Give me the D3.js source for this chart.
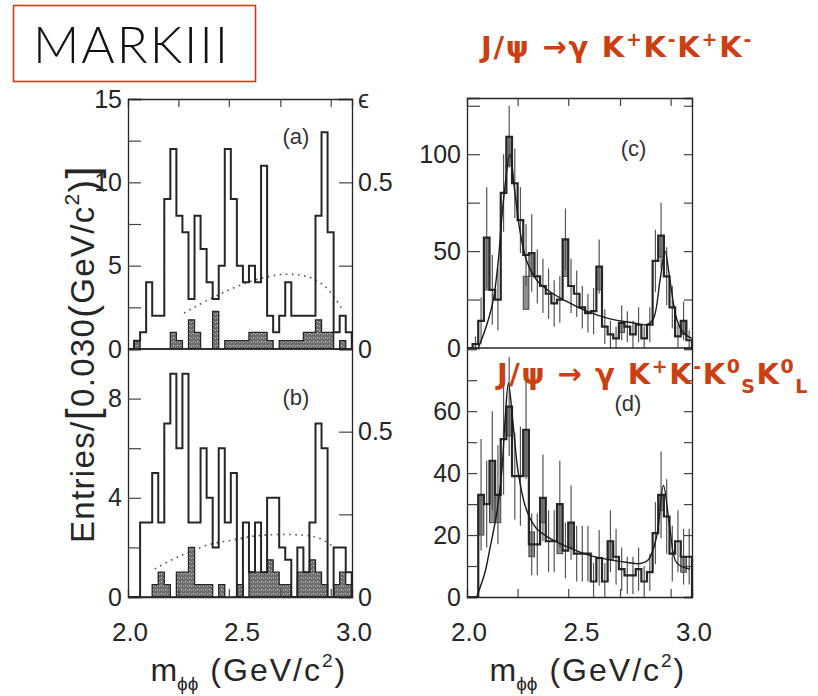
<!DOCTYPE html>
<html><head><meta charset="utf-8">
<script src="https://cdn.jsdelivr.net/npm/d3@7/dist/d3.min.js"></script>
<style>body{margin:0;background:#fff;} svg{display:block;}</style>
</head><body>
<svg id="chart" width="818" height="696"></svg>
<script>
// ---------------- DATA ----------------
// Panels (a), (b): histograms, bins start at 2.0 GeV
const binStartAB = 2.0;
const binWidthAB = 0.027;
const openA   = [0, 0.5, 1, 4, 2, 2, 9, 12, 8, 7, 3, 8, 6, 4, 3, 5, 12, 9, 5, 4, 5, 4, 11, 2, 1, 2, 4, 2, 2, 2, 2, 8, 13, 7, 1, 2, 1];
const shadedA = [0, 0.5, 0, 0, 0, 0, 0, 1, 0.5, 0, 1.75, 1, 0, 0, 2.25, 0, 0.5, 0.5, 0.5, 0.5, 1, 1, 1, 0.5, 0, 0.5, 0.5, 0.5, 0.5, 1, 1, 1.75, 1, 1, 0, 0.5, 0];
const openB   = [0, 0, 3, 3, 5, 3, 7, 9, 6, 9, 3, 3, 6, 4, 2, 6, 3, 5, 0, 3, 1, 3, 1, 4, 4, 2, 1.5, 0, 2, 1, 3, 7, 6, 0, 2, 2, 1];
const shadedB = [0, 0, 0, 0, 0.5, 1, 0.5, 0, 1, 1, 2, 0.5, 0.5, 0.5, 0, 0.5, 0, 0, 0.5, 0, 1, 1, 1, 1.5, 1, 0.5, 0.5, 0, 1, 1, 1.5, 1, 0.5, 0, 0.5, 1, 0.5];
// detection efficiency (dotted curves)
const effMassA = [2.25, 2.35, 2.45, 2.55, 2.65, 2.74, 2.84, 2.91, 2.96];
const effA     = [0.108, 0.145, 0.178, 0.205, 0.222, 0.227, 0.213, 0.17, 0.115];
const effMassB = [2.12, 2.205, 2.27, 2.357, 2.45, 2.51, 2.567, 2.68, 2.80, 2.866, 2.92];
const effB     = [0.085, 0.117, 0.134, 0.16, 0.17, 0.178, 0.186, 0.19, 0.188, 0.178, 0.15];
// Panels (c), (d)
const binStartCD = 2.0;
const binWidthCD = 0.025;
const histC = [0, 2, 14, 57, 30, 25, 80, 109, 85, 66, 48, 49, 37, 32, 28, 23, 25, 56, 32, 28, 21, 18, 19, 42, 11, 7, 5, 13, 11, 7, 12, 5, 12, 45, 58, 37, 21, 6, 14, 4];
const errC  = [0, 4, 12, 26, 18, 16, 20, 16, 18, 17, 16, 20, 14, 14, 13, 12, 12, 16, 14, 12, 11, 10, 12, 14, 9, 7, 6, 9, 8, 7, 9, 6, 9, 16, 17, 15, 11, 6, 10, 5];
const boxesC = [[3, 30, 57], [7, 94, 109], [10, 20, 37], [11, 37, 49], [17, 37, 56], [23, 30, 42], [34, 47, 58], [38, 7, 14], [27, 8, 13]];
const fitMassC = [2.05, 2.088, 2.117, 2.139, 2.161, 2.191, 2.213, 2.236, 2.265, 2.31, 2.369, 2.443, 2.532, 2.636, 2.739, 2.799, 2.828, 2.858, 2.88, 2.902, 2.932, 2.961, 2.999];
const fitC     = [0, 12, 25, 45, 75, 100, 80, 60, 45, 35, 29, 24, 19, 15, 13, 12, 15, 35, 50, 35, 15, 8, 5];
const histD = [0, 0, 33, 30, 44, 33, 51, 61.5, 39, 39, 54, 17, 17, 32, 18, 18, 30, 15, 24, 14, 14, 14, 5, 12.6, 5, 18, 13, 9, 7, 7, 9, 5, 8, 20.6, 33, 26, 14, 18, 13, 13];
const errD  = [0, 0, 18, 14, 16, 16, 18, 16, 14, 16, 16, 10, 10, 14, 10, 10, 14, 9, 12, 9, 9, 9, 6, 9, 6, 10, 9, 7, 6, 6, 7, 5, 6, 10, 14, 12, 9, 10, 9, 9];
const boxesD = [[2, 20, 33], [4, 24, 44], [5, 24, 33], [7, 52, 61.5], [10, 39, 54], [11, 13, 21], [13, 24, 32], [16, 14, 30], [18, 16, 24], [25, 12, 18], [34, 28, 33], [38, 8, 13]];
const fitMassD = [2.043, 2.08, 2.10, 2.132, 2.154, 2.17, 2.184, 2.206, 2.228, 2.265, 2.31, 2.354, 2.443, 2.561, 2.68, 2.769, 2.806, 2.843, 2.873, 2.902, 2.932, 2.991];
const fitD     = [0, 8, 15, 27, 40, 58, 69, 55, 40, 28, 22, 19.6, 16.3, 13.1, 11.5, 10.8, 12, 19.6, 36, 22, 11, 9];
// axis ticks
const xTickLabels = [2.0, 2.5, 3.0];
const xTickMarks  = [2.225, 2.45, 2.68, 2.905];
const yTicksA = [0, 2.5, 5, 7.5, 10, 12.5, 15], yLabelsA = [0, 5, 10, 15];
const yTicksB = [0, 2, 4, 6, 8, 10],            yLabelsB = [0, 4, 8];
const effTicks = [0, 0.25, 0.5, 0.75];
const yTicksC = [0, 25, 50, 75, 100, 125],      yLabelsC = [0, 50, 100];
const yTicksD = [0, 10, 20, 30, 40, 50, 60, 70, 80], yLabelsD = [0, 20, 40, 60];

// ---------------- CHART ----------------
const svg = d3.select("#chart");
const FONT = "'Liberation Sans', Arial, Helvetica, sans-serif";
const INK = "#262626";
const RED = "#cc3f12";

const defs = svg.append("defs");
const pat = defs.append("pattern").attr("id", "stip").attr("width", 4).attr("height", 4).attr("patternUnits", "userSpaceOnUse");
pat.append("rect").attr("width", 4).attr("height", 4).attr("fill", "#6e6e6e");
pat.append("rect").attr("x", 1).attr("y", 1).attr("width", 1).attr("height", 1).attr("fill", "#d8d8d8");
pat.append("rect").attr("x", 3).attr("y", 2).attr("width", 1).attr("height", 1).attr("fill", "#b0b0b0");

const xL = d3.scaleLinear().domain([2.0, 3.0]).range([128, 352]);
const xR = d3.scaleLinear().domain([2.0, 3.0]).range([467, 692]);
const yA = d3.scaleLinear().domain([0, 15]).range([349, 99]);
const yB = d3.scaleLinear().domain([0, 10]).range([597, 349]);
const eA = d3.scaleLinear().domain([0, 0.75]).range([349, 99]);
const eB = d3.scaleLinear().domain([0, 0.75]).range([597, 349]);
const yC = d3.scaleLinear().domain([0, 129]).range([348, 98]);
const yD = d3.scaleLinear().domain([0, 80.4]).range([597, 348]);

function fitWidth(sel, target) {
  const n = sel.node();
  const w = n.getComputedTextLength();
  const chars = n.textContent.length;
  sel.attr("letter-spacing", ((target - w) / chars).toFixed(2));
}

function stepPoints(vals, start, bw) {
  const pts = [[start, 0]];
  vals.forEach((v, i) => { pts.push([start + i * bw, v]); pts.push([start + (i + 1) * bw, v]); });
  pts.push([start + vals.length * bw, 0]);
  return pts;
}

function drawHistAB(g, x, y, open, shaded) {
  const pts = stepPoints(shaded, binStartAB, binWidthAB);
  g.append("path").datum(pts)
    .attr("d", d3.area().x(d => x(d[0])).y0(y(0)).y1(d => y(d[1])))
    .attr("fill", "url(#stip)").attr("stroke", INK).attr("stroke-width", 1.3);
  const op = stepPoints(open, binStartAB, binWidthAB);
  g.append("path").datum(op)
    .attr("d", d3.line().x(d => x(d[0])).y(d => y(d[1])))
    .attr("fill", "none").attr("stroke", INK).attr("stroke-width", 2).attr("stroke-linejoin", "miter");
}

function drawEff(g, x, e, ms, vs) {
  g.append("path").datum(ms.map((m, i) => [m, vs[i]]))
    .attr("d", d3.line().x(d => x(d[0])).y(d => e(d[1])).curve(d3.curveBasis))
    .attr("fill", "none").attr("stroke", "#555").attr("stroke-width", 1.6)
    .attr("stroke-dasharray", "1.6,4.5");
}

function drawHistCD(g, x, y, hist, err, boxes, fm, fv, top) {
  g.selectAll(null).data(boxes).enter().append("rect")
    .attr("x", d => x(binStartCD + d[0] * binWidthCD))
    .attr("width", d => x(binStartCD + binWidthCD) - x(binStartCD))
    .attr("y", d => y(d[2])).attr("height", d => y(d[1]) - y(d[2]))
    .attr("fill", "#8d8d8d").attr("stroke", "#444").attr("stroke-width", 1);
  g.selectAll(null).data(hist.map((v, i) => [i, v, err[i]]).filter(d => d[2] > 0)).enter().append("line")
    .attr("x1", d => x(binStartCD + (d[0] + 0.5) * binWidthCD))
    .attr("x2", d => x(binStartCD + (d[0] + 0.5) * binWidthCD))
    .attr("y1", d => y(Math.max(0, d[1] - d[2])))
    .attr("y2", d => y(Math.min(top, d[1] + d[2])))
    .attr("stroke", "#555").attr("stroke-width", 1.2);
  const pts = stepPoints(hist, binStartCD, binWidthCD);
  g.append("path").datum(pts)
    .attr("d", d3.line().x(d => x(d[0])).y(d => y(d[1])))
    .attr("fill", "none").attr("stroke", INK).attr("stroke-width", 2.2);
  g.append("path").datum(fm.map((m, i) => [m, fv[i]]))
    .attr("d", d3.line().x(d => x(d[0])).y(d => y(d[1])).curve(d3.curveCatmullRom))
    .attr("fill", "none").attr("stroke", "#1a1a1a").attr("stroke-width", 1.4);
}

function frameAxes(g, x, y, ticks, labels, side, tickLen) {
  const fmt = v => labels.includes(v) ? String(v) : "";
  const ax = (side === "left" ? d3.axisLeft(y) : d3.axisRight(y))
    .tickValues(ticks).tickSize(-tickLen).tickPadding(6).tickFormat(fmt);
  const pos = side === "left" ? x.range()[0] : x.range()[1];
  const a = g.append("g").attr("transform", `translate(${pos},0)`).call(ax);
  a.select(".domain").attr("stroke", INK).attr("stroke-width", 1.3);
  a.selectAll(".tick line").attr("stroke", "#444").attr("stroke-width", 1.2);
  a.selectAll("text").attr("font-family", FONT).attr("font-size", 25).attr("fill", INK);
  return a;
}

function xMarks(g, x, yPos, dir) {
  const ax = (dir === "top" ? d3.axisTop(x) : d3.axisBottom(x)).tickValues(xTickMarks).tickSize(-8).tickFormat("");
  const a = g.append("g").attr("transform", `translate(0,${yPos})`).call(ax);
  a.select(".domain").attr("stroke", INK).attr("stroke-width", 1.3);
  a.selectAll(".tick line").attr("stroke", "#444").attr("stroke-width", 1.2);
}

const g = svg.append("g");

// ----- panel (a)
drawEff(g, xL, eA, effMassA, effA);
drawHistAB(g, xL, yA, openA, shadedA);
frameAxes(g, xL, yA, yTicksA, yLabelsA, "left", 13);
const rA = frameAxes(g, xL, eA, effTicks, [0, 0.5, 0.75], "right", 13);
rA.selectAll("text").text(d => d === 0.75 ? "ϵ" : (d === 0.5 ? "0.5" : (d === 0 ? "0" : "")));
xMarks(g, xL, 99, "top");
// ----- panel (b)
drawEff(g, xL, eB, effMassB, effB);
drawHistAB(g, xL, yB, openB, shadedB);
frameAxes(g, xL, yB, yTicksB, yLabelsB, "left", 13);
const rB = frameAxes(g, xL, eB, effTicks.slice(0, 3), [0, 0.5], "right", 13);
rB.selectAll("text").text(d => d === 0.5 ? "0.5" : (d === 0 ? "0" : ""));
xMarks(g, xL, 597, "bottom");
g.append("line").attr("x1", xL(2.0)).attr("x2", xL(3.0)).attr("y1", yA(0)).attr("y2", yA(0)).attr("stroke", INK).attr("stroke-width", 1.5);

// ----- panel (c)
drawHistCD(g, xR, yC, histC, errC, boxesC, fitMassC, fitC, 129);
frameAxes(g, xR, yC, yTicksC, yLabelsC, "left", 13);
frameAxes(g, xR, yC, yTicksC, [], "right", 8);
xMarks(g, xR, 98, "top");
// ----- panel (d)
drawHistCD(g, xR, yD, histD, errD, boxesD, fitMassD, fitD, 80.4);
frameAxes(g, xR, yD, yTicksD, yLabelsD, "left", 10);
frameAxes(g, xR, yD, yTicksD, [], "right", 8);
xMarks(g, xR, 597, "bottom");
g.append("line").attr("x1", xR(2.0)).attr("x2", xR(3.0)).attr("y1", yC(0)).attr("y2", yC(0)).attr("stroke", INK).attr("stroke-width", 1.5);

// x tick labels
[xL, xR].forEach(x => {
  g.selectAll(null).data(xTickLabels).enter().append("text")
    .attr("x", d => x(d) + 2).attr("y", 641).attr("text-anchor", "middle")
    .attr("font-family", FONT).attr("font-size", 26).attr("fill", INK)
    .text(d => d.toFixed(1));
});

// panel letters
const pl = [["(a)", xL(2.75), yA(12.3)], ["(b)", xL(2.75), yB(7.75)], ["(c)", xR(2.74), yC(99)], ["(d)", xR(2.715), yD(60)]];
pl.forEach(p => g.append("text").attr("x", p[1]).attr("y", p[2]).attr("text-anchor", "middle")
  .attr("font-family", FONT).attr("font-size", 22).attr("fill", "#333").text(p[0]));

// x axis titles
[xL, xR].forEach(x => {
  const t = g.append("text").attr("x", x(2.1)).attr("y", 681).attr("font-family", FONT).attr("font-size", 32).attr("fill", INK);
  t.append("tspan").text("m");
  t.append("tspan").attr("font-size", 19).attr("dy", 9).text("ϕϕ");
  t.append("tspan").attr("dy", -9).attr("dx", 12).attr("letter-spacing", 2).text("(GeV/c");
  t.append("tspan").attr("font-size", 19).attr("dy", -14).text("2");
  t.append("tspan").attr("dy", 14).attr("dx", 2).text(")");
});

// y axis title
const yt = g.append("text").attr("transform", "translate(94,354) rotate(-90)").attr("text-anchor", "middle")
  .attr("font-family", FONT).attr("font-size", 33).attr("fill", INK);
yt.append("tspan").text("Entries/");
yt.append("tspan").attr("font-size", 44).attr("dy", 3).text("[");
yt.append("tspan").attr("dy", -3).text("0.030");
yt.append("tspan").attr("font-size", 38).attr("dy", 2).text("(");
yt.append("tspan").attr("dy", -2).text("GeV/c");
yt.append("tspan").attr("font-size", 21).attr("dy", -15).text("2");
yt.append("tspan").attr("font-size", 38).attr("dy", 17).text(")");
yt.append("tspan").attr("font-size", 44).attr("dy", 1).text("]");
fitWidth(yt, 378);

// MARKIII box
svg.append("rect").attr("x", 13.5).attr("y", 5.5).attr("width", 242).attr("height", 76)
  .attr("fill", "none").attr("stroke", RED).attr("stroke-width", 1.6);
const mk = svg.append("text").attr("x", 33).attr("y", 63)
  .attr("font-family", "Lato, 'Open Sans', sans-serif").attr("font-weight", 300).attr("font-size", 51).attr("fill", "#111")
  .text("MARKIII");
fitWidth(mk, 197);

// red titles
function redTitle(x, y, parts, target) {
  const t = svg.append("text").attr("x", x).attr("y", y).attr("font-family", "'DejaVu Sans', Verdana, sans-serif")
    .attr("font-weight", "bold").attr("font-size", 29).attr("fill", RED);
  parts.forEach(p => {
    const s = t.append("tspan").text(p[0]);
    if (p[1]) s.attr("dy", p[1]);
    if (p[2]) s.attr("font-size", 19);
  });
  fitWidth(t, target);
  return t;
}
redTitle(481, 57, [["J/ψ →γ K"], ["+", -11, 1], ["K", 11], ["-", -11, 1], ["K", 11], ["+", -11, 1], ["K", 11], ["-", -11, 1]], 272);
redTitle(497, 384, [["J/ψ → γ K"], ["+", -11, 1], ["K", 11], ["-", -11, 1], ["K", 11], ["0", -11, 1], ["S", 20, 1], ["K", -9], ["0", -11, 1], ["L", 20, 1]], 312);
</script>
</body></html>
